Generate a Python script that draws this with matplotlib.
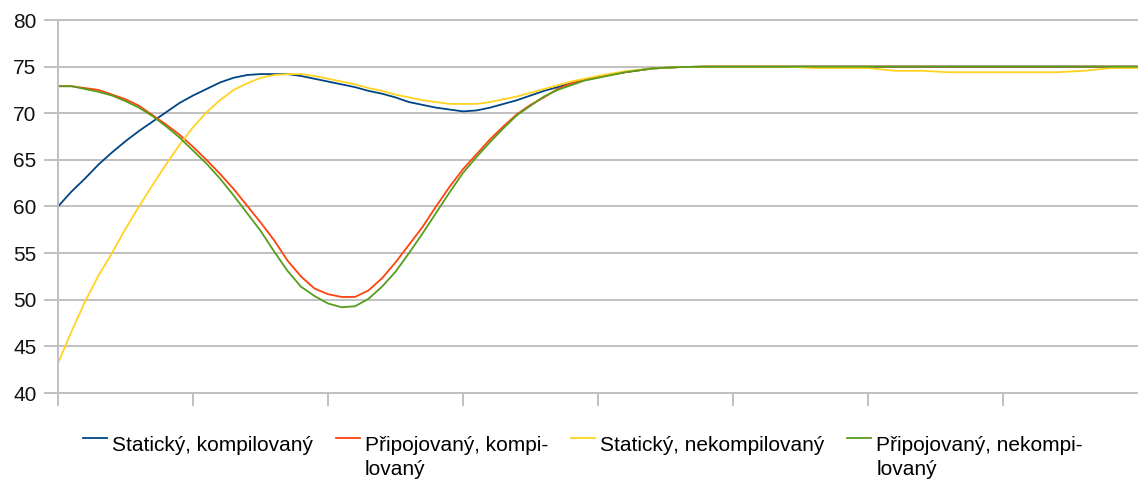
import numpy as np
import matplotlib
matplotlib.use("Agg")
import matplotlib.pyplot as plt

plt.rcParams["font.family"] = ["Liberation Sans", "DejaVu Sans"]

# sample positions (one unit = one x-tick tenth)
x = list(range(0, 41)) + list(range(42, 81, 2))

tail = [74.4, 74.8, 74.95] + [75.0] * 17

staticky_kompilovany = [
    60.0, 61.6, 63.0, 64.5, 65.8, 67.0, 68.1, 69.1, 70.1, 71.1,
    71.9, 72.6, 73.3, 73.8, 74.1, 74.2, 74.2, 74.2, 74.0, 73.7,
    73.4, 73.1, 72.8, 72.4, 72.1, 71.7, 71.2, 70.9, 70.6, 70.4,
    70.2, 70.3, 70.6, 71.0, 71.4, 71.9, 72.4, 72.8, 73.2, 73.6,
    73.9,
] + tail

pripojovany_kompilovany = [
    72.9, 72.9, 72.7, 72.5, 72.0, 71.5, 70.8, 69.8, 68.8, 67.7,
    66.4, 65.0, 63.5, 61.9, 60.1, 58.3, 56.4, 54.2, 52.5, 51.2,
    50.6, 50.3, 50.3, 51.0, 52.3, 54.0, 55.9, 57.8, 60.0, 62.1,
    64.0, 65.6, 67.2, 68.6, 69.9, 70.9, 71.7, 72.6, 73.2, 73.6,
    73.9,
] + tail

staticky_nekompilovany = [
    43.2, 46.6, 49.8, 52.6, 55.0, 57.6, 60.0, 62.3, 64.5, 66.6,
    68.5, 70.1, 71.4, 72.5, 73.2, 73.8, 74.1, 74.2, 74.2, 74.0,
    73.7, 73.4, 73.1, 72.7, 72.4, 72.0, 71.7, 71.4, 71.2, 71.0,
    71.0, 71.0, 71.2, 71.5, 71.8, 72.2, 72.6, 73.0, 73.4, 73.7,
    74.0,
    74.5, 74.8, 74.95, 75.0, 75.0, 75.0, 75.0, 74.85, 74.85, 74.85,
    74.55, 74.55, 74.4, 74.4, 74.4, 74.4, 74.4, 74.55, 74.85, 74.85,
]

pripojovany_nekompilovany = [
    72.9, 72.9, 72.6, 72.3, 71.9, 71.3, 70.6, 69.7, 68.6, 67.4,
    66.0, 64.6, 63.0, 61.2, 59.3, 57.4, 55.2, 53.1, 51.4, 50.4,
    49.6, 49.2, 49.3, 50.1, 51.4, 53.0, 55.0, 57.1, 59.3, 61.5,
    63.6, 65.3, 66.9, 68.4, 69.8, 70.8, 71.8, 72.5, 73.0, 73.5,
    73.8,
] + tail

series = [
    ("Statický, kompilovaný\n", staticky_kompilovany, "#004586"),
    ("Připojovaný, kompi-\nlovaný", pripojovany_kompilovany, "#ff420e"),
    ("Statický, nekompilovaný\n", staticky_nekompilovany, "#ffd320"),
    ("Připojovaný, nekompi-\nlovaný", pripojovany_nekompilovany, "#579d1c"),
]

grid_color = "#c0c0c0"

fig = plt.figure(figsize=(11.38, 4.86), dpi=100)
ax = fig.add_axes([58 / 1138, 1 - 393 / 486, 1 - 58 / 1138, 373 / 486])

for label, values, color in series:
    ax.plot(x, values, color=color, linewidth=1.3, label=label)

ax.set_xlim(0, 80)
ax.set_ylim(40, 80)
ax.set_yticks(range(40, 81, 5))
ax.set_xticks(range(0, 80, 10))
ax.set_xticklabels([])

ax.grid(axis="y", color=grid_color, linewidth=1.4)
ax.set_axisbelow(True)
for side in ["top", "bottom", "left"]:
    ax.spines[side].set_color(grid_color)
    ax.spines[side].set_linewidth(1.4)
ax.spines["right"].set_visible(False)

ax.tick_params(axis="y", length=10, width=1.4, color=grid_color,
               pad=5.5, labelsize=15, labelcolor="#111111")
ax.tick_params(axis="x", length=9.5, width=1.4, color=grid_color)

leg = ax.legend(
    loc="upper center",
    bbox_to_anchor=(0.486, -0.066),
    ncol=4,
    frameon=False,
    fontsize=15,
    handlelength=1.15,
    handletextpad=0.25,
    columnspacing=1.1,
)
for t in leg.get_texts():
    t.set_linespacing(1.3)
for h in leg.legend_handles:
    h.set_linewidth(1.3)
    h.set_ydata(np.asarray(h.get_ydata()) + 14)

fig.savefig("out.png", dpi=100)
